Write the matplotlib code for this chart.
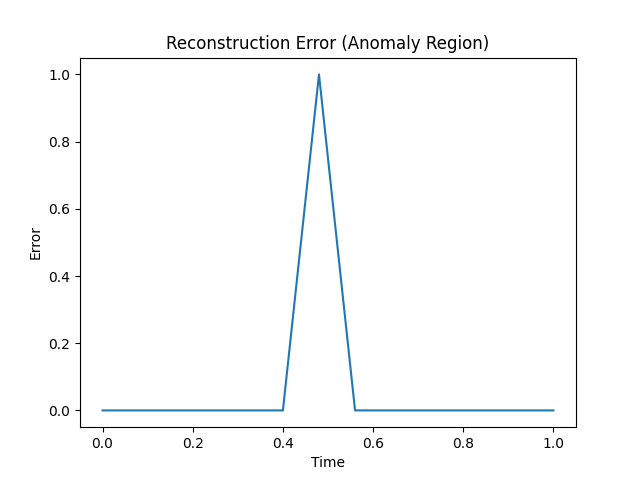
import matplotlib
matplotlib.use("Agg")
import matplotlib.pyplot as plt

time = [0.0, 0.4, 0.48, 0.56, 1.0]
error = [0.0, 0.0, 1.0, 0.0, 0.0]

fig, ax = plt.subplots(figsize=(6.4, 4.8), dpi=100)
ax.plot(time, error)
ax.set_title("Reconstruction Error (Anomaly Region)")
ax.set_xlabel("Time")
ax.set_ylabel("Error")
fig.savefig("out.png")
